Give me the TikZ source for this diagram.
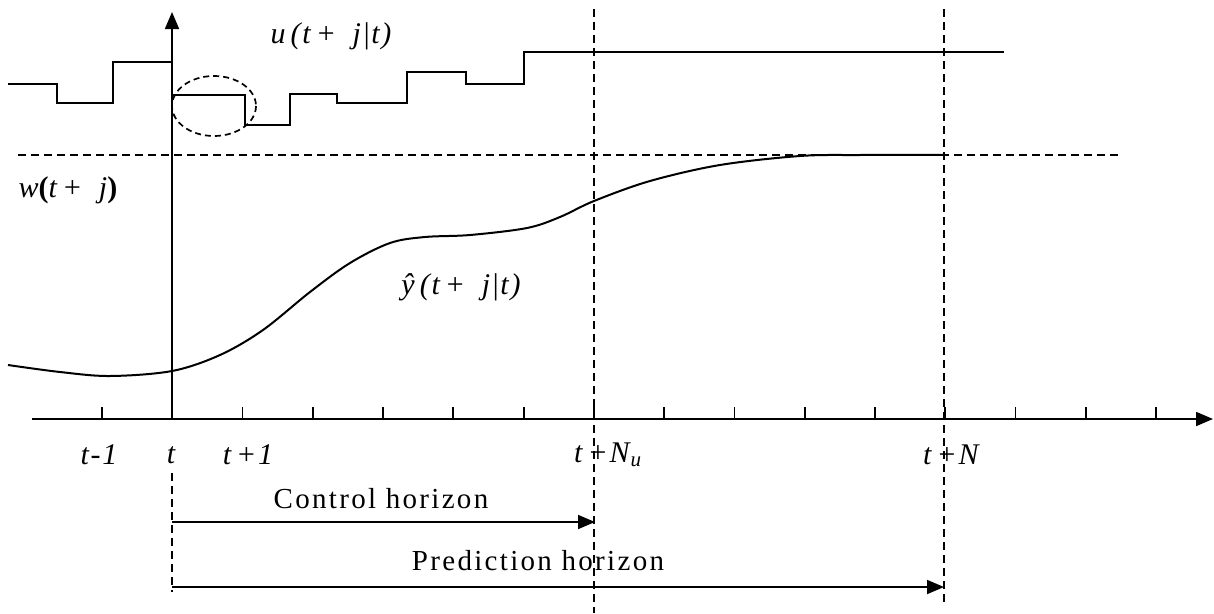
\documentclass[tikz,border=0pt]{standalone}
\usepackage{fontspec}
\setmainfont{Liberation Serif}
\usetikzlibrary{arrows.meta}
\begin{document}
\begin{tikzpicture}[x=1pt,y=-1pt,
  line/.style={line width=1.8pt},
  dsh/.style={line width=1.5pt, dash pattern=on 8pt off 5pt},
  tri/.style={-{Triangle[length=17pt,width=14pt]}},
  lbl/.style={font=\fontsize{30}{32}\selectfont\itshape\addfontfeature{LetterSpace=6}, inner sep=0pt},
  txt/.style={font=\fontsize{29}{31}\selectfont\addfontfeature{LetterSpace=8}, inner sep=0pt}]
\useasboundingbox[fill=white] (0,0) rectangle (1214,613);
% key coordinates
\coordinate (O) at (172,419);
\coordinate (xend) at (1213,419);
\coordinate (xstart) at (32,419);
\coordinate (ytop) at (172,12);
% axes
\draw[line,tri] (xstart) -- (xend);
\draw[line,tri] (O) -- (ytop);
% ticks
\foreach \i in {0,...,15} \draw[line] ({102+70.27*\i},419) -- ({102+70.27*\i},407);
% reference w
\draw[dsh] (18,155) -- (1122,155);
% vertical dashed lines
\draw[dsh] (594,9) -- (594,613);
\draw[dsh] (944,9) -- (944,603);
\draw[dsh] (172,473) -- (172,592);
% control signal u
\draw[line] (8,84) -- (57,84) -- (57,103) -- (113,103) -- (113,62) -- (172,62);
\draw[line] (172,95) -- (245,95) -- (245,125) -- (290,125) -- (290,94) -- (337,94) -- (337,103)
  -- (407,103) -- (407,72) -- (466,72) -- (466,84) -- (524,84) -- (524,52) -- (1004,52);
\draw[line width=1.7pt, dash pattern=on 6pt off 4pt] (214,106) ellipse [x radius=42, y radius=30];
% predicted output
\draw[line width=2pt] plot[smooth, tension=0.55] coordinates {(8,365) (60,372) (110,376) (172,371) (220,355) (263,330) (310,292) (350,263) (390,243) (425,237) (470,235) (527,228) (560,217) (594,201) (650,181) (720,165) (800,156) (860,155) (944,155)};
% labels
\node[lbl] (ulab) at (331,36) {u\,(t\,+\;\;j\kern1pt|\kern1pt t)};
\node[lbl] (wlab) at (68,190) {w\textbf{\upshape(}t\,+\;\;j\textbf{\upshape)}};
\node[lbl] (ylab) at (461,287) {ŷ\,(t\,+\;\;j\kern1pt|\kern1pt t)};
\node[lbl] (tm1) at (99,455) {t-1};
\node[lbl] (t0) at (171,455) {t};
\node[lbl] (tp1) at (248,455) {t\,+1};
\node[lbl, anchor=west] (tNu) at (574,455) {t\,+N\textsubscript{\kern1pt u}};
\node[lbl, anchor=west] (tN) at (923,455) {t\,+N};
% horizons
\coordinate (c0) at (172,522);
\coordinate (c1) at (595,522);
\coordinate (p0) at (172,587);
\coordinate (p1) at (944,587);
\draw[line,tri] (c0) -- (c1);
\draw[line,tri] (p0) -- (p1);
\node[txt] (ctrl) at (381,499) {Control horizon};
\node[txt] (pred) at (538,561) {Prediction horizon};
\end{tikzpicture}
\end{document}
